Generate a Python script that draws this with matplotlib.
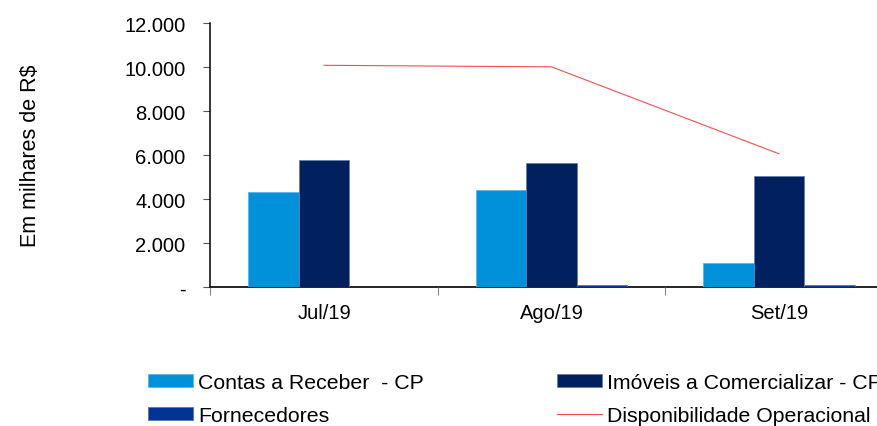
import matplotlib
matplotlib.use("Agg")
import matplotlib.pyplot as plt
import numpy as np

# ---- data ----
categories = ["Jul/19", "Ago/19", "Set/19"]
contas_receber = [4318, 4409, 1090]
imoveis = [5773, 5664, 5045]
fornecedores = [0, 90, 90]
disponibilidade = [10080, 10010, 6060]
y_ticks = [0, 2000, 4000, 6000, 8000, 10000, 12000]
y_tick_labels = ["-", "2.000", "4.000", "6.000", "8.000", "10.000", "12.000"]
series_names = ["Contas a Receber  - CP", "Imóveis a Comercializar - CP",
                "Fornecedores", "Disponibilidade Operacional"]

plt.rcParams["font.family"] = ["Liberation Sans", "DejaVu Sans"]

W, H = 877, 427
fig = plt.figure(figsize=(W / 100, H / 100), dpi=100)
ax_left, ax_top, ax_bottom = 210.3, 24.0, 288.3
ax = fig.add_axes([ax_left / W, 1 - ax_bottom / H, 1 - ax_left / W, (ax_bottom - ax_top) / H])

x = np.arange(len(categories))
bw = 0.222
c_light = "#0091DA"
c_dark = "#00205F"
c_forn = "#003594"
c_red = "#FF4B4B"

b1 = ax.bar(x - bw, contas_receber, bw, color=c_light, edgecolor="#5AB4E8", linewidth=0.6, label=series_names[0])
b2 = ax.bar(x, imoveis, bw, color=c_dark, edgecolor="#6A7FA8", linewidth=0.6, label=series_names[1])
b3 = ax.bar(x + bw, fornecedores, bw, color=c_forn, edgecolor="#5A72B0", linewidth=0.6, label=series_names[2])
l1, = ax.plot(x, disponibilidade, color=c_red, linewidth=0.8, label=series_names[3])

xmax = -0.5 + (W - ax_left) / 227.5
ax.set_xlim(-0.5, xmax)
ax.set_ylim(0, 12000)

ax.set_yticks(y_ticks)
ax.set_yticklabels(y_tick_labels)
ax.set_xticks(x)
ax.set_xticklabels(categories)
ax.set_xticks([-0.5, 0.5, 1.5], minor=True)

ax.tick_params(axis="y", which="major", direction="out", length=5, width=0.8,
               color="#555555", pad=13, labelsize=14.5)
ax.tick_params(axis="x", which="major", length=0, pad=11, labelsize=14.5)
ax.tick_params(axis="x", which="minor", direction="out", length=5.5, width=0.8, color="#888888")

for s in ["top", "right"]:
    ax.spines[s].set_visible(False)
ax.spines["left"].set_linewidth(1.1)
ax.spines["bottom"].set_linewidth(1.2)
ax.spines["bottom"].set_zorder(0.5)

fig.text(31 / W, 1 - 156 / H, "Em milhares de R$", rotation=90, ha="center", va="center", fontsize=15.5)

leg_kw = dict(frameon=False, fontsize=15.3, handlelength=2.1, handleheight=0.52,
              handletextpad=0.25, labelspacing=0.66, borderpad=0, borderaxespad=0, loc="upper left")
legA = fig.legend([b1, b3], [series_names[0], series_names[2]],
                  bbox_to_anchor=(148 / W, 1 - 374 / H), **leg_kw)
legB = fig.legend([b2, l1], [series_names[1], series_names[3]],
                  bbox_to_anchor=(557 / W, 1 - 374 / H), **leg_kw)

fig.savefig("out.png", dpi=100)
